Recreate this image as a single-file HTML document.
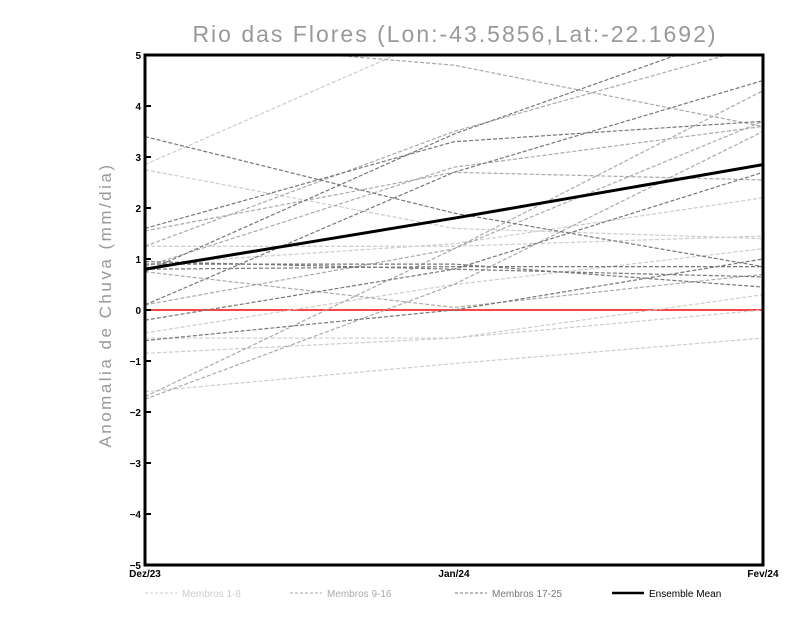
<!DOCTYPE html>
<html><head><meta charset="utf-8"><style>
body{margin:0;background:#fff;width:800px;height:618px;overflow:hidden}
svg{display:block;font-family:"Liberation Sans",sans-serif}
</style></head><body>
<svg id="chart" width="800" height="618">
<text x="455" y="42" text-anchor="middle" font-size="23" fill="#999" letter-spacing="2">Rio das Flores (Lon:-43.5856,Lat:-22.1692)</text>
<text transform="translate(111,305) rotate(-90)" text-anchor="middle" font-size="17" fill="#999" letter-spacing="2.5">Anomalia de Chuva (mm/dia)</text>
<g id="plot"></g>
<g id="axes"></g>
<g id="legend"></g>
</svg>
<script>
const categories=["Dez/23","Jan/24","Fev/24"];
const yTicks=[-5,-4,-3,-2,-1,0,1,2,3,4,5];
const light=[[2.85,5.5,6],[2.75,1.6,1.4],[1.25,1.25,1.45],[-0.45,0.5,1.2],[-0.85,-0.55,0.0],[-0.55,-0.55,0.3],[-1.6,-1.05,-0.55],[0.9,1.3,2.2]];
const medium=[[1.55,2.7,2.55],[1.25,3.5,5.2],[0.1,1.2,3.7],[-1.7,1.2,4.3],[-1.75,0.5,3.5],[0.75,0.05,0.7],[0.85,2.8,3.6],[5.3,4.8,3.6]];
const dark=[[3.4,1.9,0.85],[1.6,3.3,3.7],[0.9,0.9,0.45],[0.8,0.85,0.85],[0.95,0.8,0.65],[-0.2,0.8,2.7],[-0.6,0.0,1.0],[0.1,2.7,4.5],[0.75,3.45,5.6]];
const ensembleMean=[0.8,1.8,2.85];
const X0=145,X1=763,Y0=565,Y1=55;
const xs=i=>X0+(X1-X0)*i/(categories.length-1);
const ys=v=>Y0-(v+5)/10*(Y0-Y1);
const NS="http://www.w3.org/2000/svg";
const plot=document.getElementById('plot'),axes=document.getElementById('axes'),legend=document.getElementById('legend');
function mk(t,a,p){const e=document.createElementNS(NS,t);for(const k in a)e.setAttribute(k,a[k]);p.appendChild(e);return e;}
const cp=mk('clipPath',{id:'cp'},plot);mk('rect',{x:X0,y:Y1,width:X1-X0,height:Y0-Y1},cp);
const g=mk('g',{'clip-path':'url(#cp)'},plot);
const z=mk('line',{x1:X0,x2:X1,y1:ys(0),y2:ys(0),stroke:'#f44','stroke-width':2},g);


function series(arr,col,name){arr.forEach((s,j)=>{const p=mk('polyline',{points:s.map((v,i)=>xs(i)+','+ys(v)).join(' '),fill:'none',stroke:col,'stroke-width':1.2,'stroke-dasharray':'4,2'},g);

});}
series(light,'#ccc','member-light');series(medium,'#aaa','member-medium');series(dark,'#777','member-dark');
const m=mk('polyline',{points:ensembleMean.map((v,i)=>xs(i)+','+ys(v)).join(' '),fill:'none',stroke:'#000','stroke-width':3},g);


const fr=mk('rect',{x:X0,y:Y1,width:X1-X0,height:Y0-Y1,fill:'none',stroke:'#000','stroke-width':3},axes);


yTicks.forEach(v=>{mk('line',{x1:X0,x2:X0+6,y1:ys(v),y2:ys(v),stroke:'#000','stroke-width':2},axes);
const t=mk('text',{x:X0-4,y:ys(v)+4,'text-anchor':'end','font-size':10,'font-weight':'bold'},axes);t.textContent=v<0?'−'+(-v):v;

});
categories.forEach((c,i)=>{const t=mk('text',{x:xs(i),y:Y0+12,'text-anchor':'middle','font-size':10,'font-weight':'bold'},axes);t.textContent=c;

});
const leg=[['Membros 1-8','#ccc',145,0],['Membros 9-16','#aaa',290,0],['Membros 17-25','#777',455,0],['Ensemble Mean','#000',612,1]];
leg.forEach(l=>{const gg=mk('g',{},legend);


mk('line',{x1:l[2],x2:l[2]+32,y1:593,y2:593,stroke:l[1],'stroke-width':l[3]?2.5:1,'stroke-dasharray':l[3]?'none':'3,2'},gg);
const t=mk('text',{x:l[2]+37,y:597,'font-size':10,fill:l[3]?'#000':l[1]},gg);t.textContent=l[0];});
</script>
</body></html>
